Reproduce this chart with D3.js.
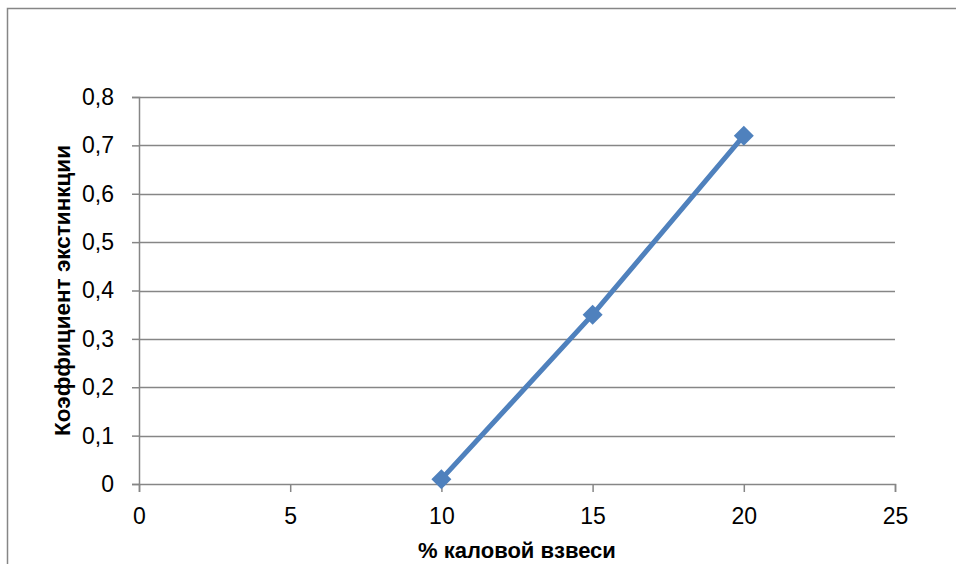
<!DOCTYPE html>
<html>
<head>
<meta charset="utf-8">
<script src="https://cdn.jsdelivr.net/npm/d3@7"></script>
<style>
  html, body { margin: 0; padding: 0; background: #fff; }
  svg { display: block; font-family: "Liberation Sans", Arial, sans-serif; }
</style>
</head>
<body>
<svg id="chart" width="956" height="564"></svg>
<script>
// Extinction coefficient vs. share of fecal suspension
const xValues = [10, 15, 20];
const yValues = [0.01, 0.35, 0.72];
const xTicks = [0, 5, 10, 15, 20, 25];
const yTicks = [0, 0.1, 0.2, 0.3, 0.4, 0.5, 0.6, 0.7, 0.8];
const xTitle = "% каловой взвеси";
const yTitle = "Коэффициент экстинкции";

const svg = d3.select("#chart");
const W = 956, H = 564;
const margin = { left: 139, right: 61, top: 97, bottom: 80 };
const gray = "#868686";
const lineColor = "#4F81BD";

// outer chart frame (runs past the right and bottom edges)
svg.append("rect")
  .attr("x", 7.5).attr("y", 8.5)
  .attr("width", 1000).attr("height", 1000)
  .attr("fill", "none").attr("stroke", gray).attr("stroke-width", 1.5);

const x = d3.scaleLinear().domain([0, 25]).range([margin.left, W - margin.right]);
const y = d3.scaleLinear().domain([0, 0.8]).range([H - margin.bottom, margin.top]);

const yFmt = d => d === 0 ? "0" : d3.format(".1f")(d).replace(".", ",");

// horizontal gridlines
svg.append("g")
  .selectAll("line")
  .data(yTicks.filter(d => d > 0))
  .join("line")
  .attr("x1", x(0)).attr("x2", x(25))
  .attr("y1", d => Math.round(y(d)) + 0.5).attr("y2", d => Math.round(y(d)) + 0.5)
  .attr("stroke", gray).attr("stroke-width", 1.5);

// y axis
const yAxis = svg.append("g")
  .attr("transform", `translate(${x(0)},0)`)
  .call(d3.axisLeft(y).tickValues(yTicks).tickFormat(yFmt).tickSize(7).tickPadding(18));
yAxis.select(".domain").attr("stroke", gray).attr("stroke-width", 1.5);
yAxis.selectAll(".tick line").attr("stroke", gray).attr("stroke-width", 1.5);
yAxis.selectAll("text").attr("font-size", 23).attr("fill", "#000")
  .attr("font-family", "Liberation Sans, Arial, sans-serif");

// x axis
const xAxis = svg.append("g")
  .attr("transform", `translate(0,${y(0)})`)
  .call(d3.axisBottom(x).tickValues(xTicks).tickFormat(d3.format("d")).tickSize(8).tickPadding(16));
xAxis.select(".domain").attr("stroke", gray).attr("stroke-width", 1.5);
xAxis.selectAll(".tick line").attr("stroke", gray).attr("stroke-width", 1.5);
xAxis.selectAll("text").attr("font-size", 23).attr("fill", "#000")
  .attr("font-family", "Liberation Sans, Arial, sans-serif");

// data series
const pts = xValues.map((v, i) => [v, yValues[i]]);
svg.append("path")
  .datum(pts)
  .attr("fill", "none")
  .attr("stroke", lineColor)
  .attr("stroke-width", 5)
  .attr("d", d3.line().x(d => x(d[0])).y(d => y(d[1])));

svg.append("g")
  .selectAll("path")
  .data(pts)
  .join("path")
  .attr("transform", d => `translate(${x(d[0])},${y(d[1])}) rotate(45)`)
  .attr("d", d3.symbol().type(d3.symbolSquare).size(200))
  .attr("fill", lineColor);

// axis titles
svg.append("text")
  .attr("x", (x(0) + x(25)) / 2).attr("y", 558)
  .attr("text-anchor", "middle")
  .attr("font-weight", "bold").attr("font-size", 22)
  .text(xTitle);

svg.append("text")
  .attr("transform", `translate(70,${(y(0) + y(0.8)) / 2}) rotate(-90)`)
  .attr("text-anchor", "middle")
  .attr("font-weight", "bold").attr("font-size", 22.5)
  .text(yTitle);
</script>
</body>
</html>
